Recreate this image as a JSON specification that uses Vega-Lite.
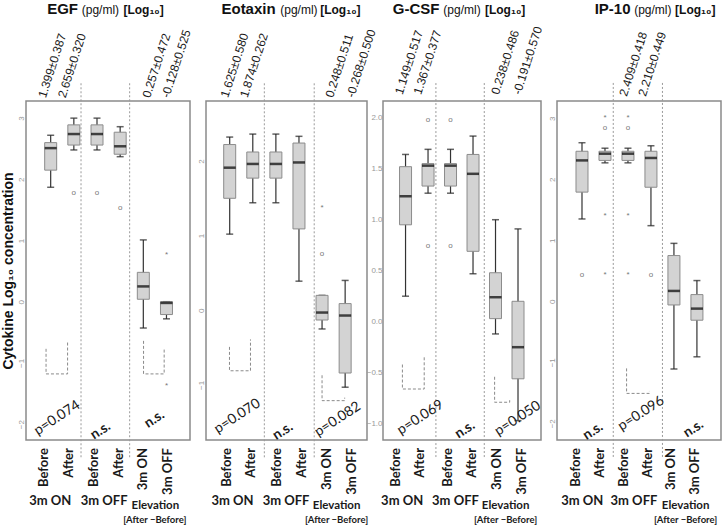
{
"$schema": "https://vega.github.io/schema/vega-lite/v6.json",
"padding": {"left": 0, "top": 0, "right": 0, "bottom": 0},
"spacing": 16,
"bounds": "flush",
"config": {
  "view": {"stroke": "#8a8a8a", "strokeWidth": 1.5},
  "font": "Liberation Sans",
  "axisX": {"domain": false, "ticks": false, "grid": false, "labels": false},
  "axisY": {"domain": false, "grid": false, "ticks": false, "labelFontSize": 8, "labelColor": "#999999", "labelPadding": 1, "titleFont": "Liberation Sans", "titleFontSize": 14, "titleFontWeight": "bold", "titleColor": "#111111", "titlePadding": 2}
},
"datasets": {
"EGF": [
{"kind":"box","x":1,"lower":1.87,"q1":2.15,"median":2.51,"q3":2.60,"upper":2.72},
{"kind":"box","x":2,"lower":2.48,"q1":2.56,"median":2.74,"q3":2.89,"upper":3.00},
{"kind":"box","x":3,"lower":2.48,"q1":2.56,"median":2.74,"q3":2.89,"upper":3.00},
{"kind":"box","x":4,"lower":2.37,"q1":2.41,"median":2.54,"q3":2.77,"upper":2.86},
{"kind":"box","x":5,"lower":-0.43,"q1":0.04,"median":0.25,"q3":0.48,"upper":1.01},
{"kind":"box","x":6,"lower":-0.28,"q1":-0.21,"median":-0.02,"q3":0.0,"upper":0.0},
{"kind":"out","x":2,"y":1.77,"sym":"o"},
{"kind":"out","x":3,"y":1.77,"sym":"o"},
{"kind":"out","x":4,"y":1.53,"sym":"o"},
{"kind":"out","x":6,"y":0.77,"sym":"*"},
{"kind":"out","x":6,"y":-1.37,"sym":"*"},
{"kind":"sep","x":2.31},
{"kind":"sep","x":4.41},
{"kind":"bracket","bid":"a","ord":1,"x":0.80,"y":-0.77},
{"kind":"bracket","bid":"a","ord":2,"x":0.80,"y":-1.18},
{"kind":"bracket","bid":"a","ord":3,"x":1.73,"y":-1.18},
{"kind":"bracket","bid":"a","ord":4,"x":1.73,"y":-0.64},
{"kind":"bracket","bid":"b","ord":1,"x":5.01,"y":-0.64},
{"kind":"bracket","bid":"b","ord":2,"x":5.01,"y":-1.18},
{"kind":"bracket","bid":"b","ord":3,"x":5.9,"y":-1.18},
{"kind":"bracket","bid":"b","ord":4,"x":5.9,"y":-0.77},
{"kind":"note","x":1.28,"y":-1.90,"label":"p=0.074"},
{"kind":"note","x":3.15,"y":-2.11,"label":"n.s."},
{"kind":"note","x":5.48,"y":-1.92,"label":"n.s."},
{"kind":"stat","x":0.785,"label":"1.399±0.387"},
{"kind":"stat","x":1.637,"label":"2.659±0.320"},
{"kind":"stat","x":5.286,"label":"0.257±0.472"},
{"kind":"stat","x":6.11,"label":"-0.128±0.525"},
{"kind":"xlab","x":0.716,"label":"Before"},
{"kind":"xlab","x":1.811,"label":"After"},
{"kind":"xlab","x":2.865,"label":"Before"},
{"kind":"xlab","x":3.96,"label":"After"},
{"kind":"xlab","x":4.97,"label":"3m ON"},
{"kind":"xlab","x":6.07,"label":"3m OFF"},
{"kind":"group","x":0.98,"label":"3m ON"},
{"kind":"group","x":3.31,"label":"3m OFF"},
{"kind":"group","x":5.52,"label":"Elevation"},
{"kind":"group","x":5.5,"label":"[After −Before]"}
],
"Eotaxin": [
{"kind":"box","x":1,"lower":1.02,"q1":1.50,"median":1.91,"q3":2.22,"upper":2.32},
{"kind":"box","x":2,"lower":1.44,"q1":1.77,"median":1.96,"q3":2.12,"upper":2.36},
{"kind":"box","x":3,"lower":1.44,"q1":1.77,"median":1.96,"q3":2.12,"upper":2.36},
{"kind":"box","x":4,"lower":0.39,"q1":1.09,"median":1.98,"q3":2.24,"upper":2.33},
{"kind":"box","x":5,"lower":-0.25,"q1":-0.13,"median":-0.03,"q3":0.20,"upper":0.20},
{"kind":"box","x":6,"lower":-1.03,"q1":-0.84,"median":-0.07,"q3":0.09,"upper":0.40},
{"kind":"out","x":5,"y":1.37,"sym":"*"},
{"kind":"out","x":5,"y":0.76,"sym":"o"},
{"kind":"sep","x":2.50},
{"kind":"sep","x":4.66},
{"kind":"bracket","bid":"a","ord":1,"x":0.99,"y":-0.49},
{"kind":"bracket","bid":"a","ord":2,"x":0.99,"y":-0.81},
{"kind":"bracket","bid":"a","ord":3,"x":1.9,"y":-0.81},
{"kind":"bracket","bid":"a","ord":4,"x":1.9,"y":-0.39},
{"kind":"bracket","bid":"b","ord":1,"x":5.0,"y":-0.87},
{"kind":"bracket","bid":"b","ord":2,"x":5.0,"y":-1.21},
{"kind":"bracket","bid":"b","ord":3,"x":5.98,"y":-1.21},
{"kind":"bracket","bid":"b","ord":4,"x":5.98,"y":-1.17},
{"kind":"note","x":1.33,"y":-1.42,"label":"p=0.070"},
{"kind":"note","x":3.30,"y":-1.62,"label":"n.s."},
{"kind":"note","x":5.68,"y":-1.46,"label":"p=0.082"},
{"kind":"stat","x":0.93,"label":"1.625±0.580"},
{"kind":"stat","x":1.77,"label":"1.874±0.262"},
{"kind":"stat","x":5.47,"label":"0.248±0.511"},
{"kind":"stat","x":6.38,"label":"-0.268±0.500"},
{"kind":"xlab","x":0.878,"label":"Before"},
{"kind":"xlab","x":1.934,"label":"After"},
{"kind":"xlab","x":3.07,"label":"Before"},
{"kind":"xlab","x":4.12,"label":"After"},
{"kind":"xlab","x":5.22,"label":"3m ON"},
{"kind":"xlab","x":6.28,"label":"3m OFF"},
{"kind":"group","x":1.12,"label":"3m ON"},
{"kind":"group","x":3.44,"label":"3m OFF"},
{"kind":"group","x":5.63,"label":"Elevation"},
{"kind":"group","x":5.63,"label":"[After −Before]"}
],
"GCSF": [
{"kind":"box","x":1,"lower":0.25,"q1":0.95,"median":1.23,"q3":1.52,"upper":1.64},
{"kind":"box","x":2,"lower":1.26,"q1":1.33,"median":1.53,"q3":1.55,"upper":1.69},
{"kind":"box","x":3,"lower":1.26,"q1":1.33,"median":1.53,"q3":1.55,"upper":1.69},
{"kind":"box","x":4,"lower":0.47,"q1":0.69,"median":1.45,"q3":1.64,"upper":1.82},
{"kind":"box","x":5,"lower":-0.12,"q1":0.03,"median":0.24,"q3":0.48,"upper":1.00},
{"kind":"box","x":6,"lower":-0.97,"q1":-0.56,"median":-0.25,"q3":0.20,"upper":0.91},
{"kind":"out","x":2,"y":1.98,"sym":"o"},
{"kind":"out","x":2,"y":0.74,"sym":"o"},
{"kind":"out","x":3,"y":1.98,"sym":"o"},
{"kind":"out","x":3,"y":0.74,"sym":"o"},
{"kind":"sep","x":2.35},
{"kind":"sep","x":4.50},
{"kind":"bracket","bid":"a","ord":1,"x":0.86,"y":-0.42},
{"kind":"bracket","bid":"a","ord":2,"x":0.86,"y":-0.66},
{"kind":"bracket","bid":"a","ord":3,"x":1.83,"y":-0.66},
{"kind":"bracket","bid":"a","ord":4,"x":1.83,"y":-0.34},
{"kind":"bracket","bid":"b","ord":1,"x":4.96,"y":-0.54},
{"kind":"bracket","bid":"b","ord":2,"x":4.96,"y":-0.79},
{"kind":"bracket","bid":"b","ord":3,"x":5.63,"y":-0.79},
{"kind":"bracket","bid":"b","ord":4,"x":5.63,"y":-0.77},
{"kind":"note","x":1.66,"y":-0.94,"label":"p=0.069"},
{"kind":"note","x":3.64,"y":-1.06,"label":"n.s."},
{"kind":"note","x":5.99,"y":-0.95,"label":"p=0.050"},
{"kind":"stat","x":0.86,"label":"1.149±0.517"},
{"kind":"stat","x":1.69,"label":"1.367±0.377"},
{"kind":"stat","x":5.14,"label":"0.238±0.486"},
{"kind":"stat","x":6.11,"label":"-0.191±0.570"},
{"kind":"xlab","x":0.583,"label":"Before"},
{"kind":"xlab","x":1.658,"label":"After"},
{"kind":"xlab","x":2.875,"label":"Before"},
{"kind":"xlab","x":3.95,"label":"After"},
{"kind":"xlab","x":5.05,"label":"3m ON"},
{"kind":"xlab","x":6.18,"label":"3m OFF"},
{"kind":"group","x":0.85,"label":"3m ON"},
{"kind":"group","x":3.22,"label":"3m OFF"},
{"kind":"group","x":5.45,"label":"Elevation"},
{"kind":"group","x":5.45,"label":"[After −Before]"}
],
"IP10": [
{"kind":"box","x":1,"lower":1.35,"q1":1.79,"median":2.31,"q3":2.46,"upper":2.60},
{"kind":"box","x":2,"lower":2.27,"q1":2.31,"median":2.42,"q3":2.46,"upper":2.51},
{"kind":"box","x":3,"lower":2.27,"q1":2.31,"median":2.42,"q3":2.46,"upper":2.51},
{"kind":"box","x":4,"lower":1.24,"q1":1.87,"median":2.35,"q3":2.46,"upper":2.55},
{"kind":"box","x":5,"lower":-1.11,"q1":-0.06,"median":0.17,"q3":0.75,"upper":0.95},
{"kind":"box","x":6,"lower":-0.91,"q1":-0.31,"median":-0.12,"q3":0.11,"upper":0.34},
{"kind":"out","x":1,"y":0.43,"sym":"o"},
{"kind":"out","x":2,"y":3.0,"sym":"*"},
{"kind":"out","x":2,"y":2.84,"sym":"o"},
{"kind":"out","x":2,"y":1.40,"sym":"*"},
{"kind":"out","x":2,"y":0.43,"sym":"*"},
{"kind":"out","x":3,"y":3.0,"sym":"*"},
{"kind":"out","x":3,"y":2.84,"sym":"o"},
{"kind":"out","x":3,"y":1.40,"sym":"*"},
{"kind":"out","x":3,"y":0.43,"sym":"*"},
{"kind":"out","x":4,"y":0.43,"sym":"o"},
{"kind":"sep","x":2.36},
{"kind":"sep","x":4.50},
{"kind":"bracket","bid":"a","ord":1,"x":2.94,"y":-1.10},
{"kind":"bracket","bid":"a","ord":2,"x":2.94,"y":-1.51},
{"kind":"bracket","bid":"a","ord":3,"x":3.93,"y":-1.51},
{"kind":"bracket","bid":"a","ord":4,"x":3.93,"y":-1.47},
{"kind":"note","x":1.48,"y":-2.13,"label":"n.s."},
{"kind":"note","x":3.57,"y":-1.84,"label":"p=0.096"},
{"kind":"note","x":5.85,"y":-2.09,"label":"n.s."},
{"kind":"stat","x":2.95,"label":"2.409±0.418"},
{"kind":"stat","x":3.77,"label":"2.210±0.449"},
{"kind":"xlab","x":0.73,"label":"Before"},
{"kind":"xlab","x":1.78,"label":"After"},
{"kind":"xlab","x":2.82,"label":"Before"},
{"kind":"xlab","x":3.88,"label":"After"},
{"kind":"xlab","x":4.86,"label":"3m ON"},
{"kind":"xlab","x":5.92,"label":"3m OFF"},
{"kind":"group","x":1.01,"label":"3m ON"},
{"kind":"group","x":3.26,"label":"3m OFF"},
{"kind":"group","x":5.51,"label":"Elevation"},
{"kind":"group","x":5.51,"label":"[After −Before]"}
]
},
"hconcat": [
{
"width": 164, "height": 339,
"data": {"name": "EGF"},
"layer": [
{"transform":[{"filter":"datum.kind=='sep'"}],"mark":{"type":"rule","color":"#9a9a9a","strokeDash":[2,2],"strokeWidth":1},"encoding":{"x":{"field":"x","type":"quantitative"},"y":{"datum":3.57},"y2":{"datum":-2.56}}},
{"transform":[{"filter":"datum.kind=='box'"}],"mark":{"type":"rule","color":"#333333","strokeWidth":1.2},"encoding":{"x":{"field":"x","type":"quantitative","title":null,"scale":{"domain":[0.15,6.8],"nice":false,"zero":false}},"y":{"field":"lower","type":"quantitative","title":"Cytokine Log₁₀ concentration","scale":{"domain":[-2.26,3.28],"nice":false,"zero":false},"axis":{"values":[-2,-1,0,1,2,3],"format":"d","labelAngle":-90}},"y2":{"field":"upper"}}},
{"transform":[{"filter":"datum.kind=='box'"}],"mark":{"type":"tick","orient":"horizontal","size":7,"thickness":1.5,"color":"#222222"},"encoding":{"x":{"field":"x","type":"quantitative"},"y":{"field":"lower","type":"quantitative"}}},
{"transform":[{"filter":"datum.kind=='box'"}],"mark":{"type":"tick","orient":"horizontal","size":7,"thickness":1.5,"color":"#222222"},"encoding":{"x":{"field":"x","type":"quantitative"},"y":{"field":"upper","type":"quantitative"}}},
{"transform":[{"filter":"datum.kind=='box'"}],"mark":{"type":"bar","width":12,"fill":"#d3d3d3","stroke":"#8c8c8c","strokeWidth":1},"encoding":{"x":{"field":"x","type":"quantitative"},"y":{"field":"q1","type":"quantitative"},"y2":{"field":"q3"}}},
{"transform":[{"filter":"datum.kind=='box'"}],"mark":{"type":"tick","orient":"horizontal","size":12,"thickness":2.5,"color":"#000000"},"encoding":{"x":{"field":"x","type":"quantitative"},"y":{"field":"median","type":"quantitative"}}},
{"transform":[{"filter":"datum.kind=='out'"}],"mark":{"type":"text","fontSize":8,"color":"#777777","baseline":"middle"},"encoding":{"x":{"field":"x","type":"quantitative"},"y":{"field":"y","type":"quantitative"},"text":{"field":"sym"}}},
{"transform":[{"filter":"datum.kind=='bracket'"}],"mark":{"type":"line","color":"#8a8a8a","strokeDash":[3,2],"strokeWidth":1},"encoding":{"x":{"field":"x","type":"quantitative"},"y":{"field":"y","type":"quantitative"},"order":{"field":"ord"},"detail":{"field":"bid"}}},
{"transform":[{"filter":"datum.kind=='note' && datum.label != 'n.s.'"}],"mark":{"type":"text","font":"Lato","fontSize":14,"angle":327,"align":"center","baseline":"middle","color":"#1a1a1a"},"encoding":{"x":{"field":"x","type":"quantitative"},"y":{"field":"y","type":"quantitative"},"text":{"field":"label"}}},
{"transform":[{"filter":"datum.kind=='note' && datum.label == 'n.s.'"}],"mark":{"type":"text","font":"Lato","fontSize":14,"fontWeight":"bold","angle":327,"align":"center","baseline":"middle","color":"#1a1a1a"},"encoding":{"x":{"field":"x","type":"quantitative"},"y":{"field":"y","type":"quantitative"},"text":{"field":"label"}}},
{"transform":[{"filter":"datum.kind=='stat'"}],"mark":{"type":"text","fontSize":12,"angle":288,"align":"left","baseline":"alphabetic","color":"#1a1a1a"},"encoding":{"x":{"field":"x","type":"quantitative"},"y":{"datum":3.32},"text":{"field":"label"}}},
{"transform":[{"filter":"datum.kind=='xlab'"}],"mark":{"type":"text","font":"Lato","fontSize":13,"fontWeight":"bold","angle":270,"align":"right","baseline":"middle","color":"#1a1a1a"},"encoding":{"x":{"field":"x","type":"quantitative"},"y":{"datum":-2.392},"text":{"field":"label"}}},
{"transform":[{"filter":"datum.kind=='group' && (datum.label=='3m ON' || datum.label=='3m OFF')"}],"mark":{"type":"text","font":"Lato","fontSize":13,"fontWeight":"bold","align":"center","baseline":"middle","color":"#1a1a1a"},"encoding":{"x":{"field":"x","type":"quantitative"},"y":{"datum":-3.258},"text":{"field":"label"}}},
{"transform":[{"filter":"datum.kind=='group' && datum.label=='Elevation'"}],"mark":{"type":"text","font":"Lato","fontSize":11.5,"fontWeight":"bold","align":"center","baseline":"middle","color":"#1a1a1a"},"encoding":{"x":{"field":"x","type":"quantitative"},"y":{"datum":-3.340},"text":{"field":"label"}}},
{"transform":[{"filter":"datum.kind=='group' && datum.label=='[After −Before]'"}],"mark":{"type":"text","font":"Lato","fontSize":9.5,"fontWeight":"bold","align":"center","baseline":"middle","color":"#1a1a1a"},"encoding":{"x":{"field":"x","type":"quantitative"},"y":{"datum":-3.569},"text":{"field":"label"}}},
{"data":{"values":[{}]},"mark":{"type":"text","text":"EGF","fontSize":15,"fontWeight":"bold","align":"right","baseline":"alphabetic","color":"#111111"},"encoding":{"x":{"datum":2.18},"y":{"datum":4.70}}},
{"data":{"values":[{}]},"mark":{"type":"text","text":"(pg/ml)","fontSize":12,"align":"left","baseline":"alphabetic","color":"#111111"},"encoding":{"x":{"datum":2.34},"y":{"datum":4.70}}},
{"data":{"values":[{}]},"mark":{"type":"text","text":"[Log₁₀]","fontSize":12,"fontWeight":"bold","align":"left","baseline":"alphabetic","color":"#111111"},"encoding":{"x":{"datum":4.14},"y":{"datum":4.70}}}
]
},
{
"width": 161, "height": 339,
"data": {"name": "Eotaxin"},
"layer": [
{"transform":[{"filter":"datum.kind=='sep'"}],"mark":{"type":"rule","color":"#9a9a9a","strokeDash":[2,2],"strokeWidth":1},"encoding":{"x":{"field":"x","type":"quantitative"},"y":{"datum":3.04},"y2":{"datum":-1.98}}},
{"transform":[{"filter":"datum.kind=='box'"}],"mark":{"type":"rule","color":"#333333","strokeWidth":1.2},"encoding":{"x":{"field":"x","type":"quantitative","title":null,"scale":{"domain":[0.19,6.73],"nice":false,"zero":false}},"y":{"field":"lower","type":"quantitative","title":null,"scale":{"domain":[-1.737,2.803],"nice":false,"zero":false},"axis":{"values":[-1,0,1,2],"format":"d","labelAngle":-90}},"y2":{"field":"upper"}}},
{"transform":[{"filter":"datum.kind=='box'"}],"mark":{"type":"tick","orient":"horizontal","size":7,"thickness":1.5,"color":"#222222"},"encoding":{"x":{"field":"x","type":"quantitative"},"y":{"field":"lower","type":"quantitative"}}},
{"transform":[{"filter":"datum.kind=='box'"}],"mark":{"type":"tick","orient":"horizontal","size":7,"thickness":1.5,"color":"#222222"},"encoding":{"x":{"field":"x","type":"quantitative"},"y":{"field":"upper","type":"quantitative"}}},
{"transform":[{"filter":"datum.kind=='box'"}],"mark":{"type":"bar","width":12,"fill":"#d3d3d3","stroke":"#8c8c8c","strokeWidth":1},"encoding":{"x":{"field":"x","type":"quantitative"},"y":{"field":"q1","type":"quantitative"},"y2":{"field":"q3"}}},
{"transform":[{"filter":"datum.kind=='box'"}],"mark":{"type":"tick","orient":"horizontal","size":12,"thickness":2.5,"color":"#000000"},"encoding":{"x":{"field":"x","type":"quantitative"},"y":{"field":"median","type":"quantitative"}}},
{"transform":[{"filter":"datum.kind=='out'"}],"mark":{"type":"text","fontSize":8,"color":"#777777","baseline":"middle"},"encoding":{"x":{"field":"x","type":"quantitative"},"y":{"field":"y","type":"quantitative"},"text":{"field":"sym"}}},
{"transform":[{"filter":"datum.kind=='bracket'"}],"mark":{"type":"line","color":"#8a8a8a","strokeDash":[3,2],"strokeWidth":1},"encoding":{"x":{"field":"x","type":"quantitative"},"y":{"field":"y","type":"quantitative"},"order":{"field":"ord"},"detail":{"field":"bid"}}},
{"transform":[{"filter":"datum.kind=='note' && datum.label != 'n.s.'"}],"mark":{"type":"text","font":"Lato","fontSize":14,"angle":327,"align":"center","baseline":"middle","color":"#1a1a1a"},"encoding":{"x":{"field":"x","type":"quantitative"},"y":{"field":"y","type":"quantitative"},"text":{"field":"label"}}},
{"transform":[{"filter":"datum.kind=='note' && datum.label == 'n.s.'"}],"mark":{"type":"text","font":"Lato","fontSize":14,"fontWeight":"bold","angle":327,"align":"center","baseline":"middle","color":"#1a1a1a"},"encoding":{"x":{"field":"x","type":"quantitative"},"y":{"field":"y","type":"quantitative"},"text":{"field":"label"}}},
{"transform":[{"filter":"datum.kind=='stat'"}],"mark":{"type":"text","fontSize":12,"angle":288,"align":"left","baseline":"alphabetic","color":"#1a1a1a"},"encoding":{"x":{"field":"x","type":"quantitative"},"y":{"datum":2.84},"text":{"field":"label"}}},
{"transform":[{"filter":"datum.kind=='xlab'"}],"mark":{"type":"text","font":"Lato","fontSize":13,"fontWeight":"bold","angle":270,"align":"right","baseline":"middle","color":"#1a1a1a"},"encoding":{"x":{"field":"x","type":"quantitative"},"y":{"datum":-1.844},"text":{"field":"label"}}},
{"transform":[{"filter":"datum.kind=='group' && (datum.label=='3m ON' || datum.label=='3m OFF')"}],"mark":{"type":"text","font":"Lato","fontSize":13,"fontWeight":"bold","align":"center","baseline":"middle","color":"#1a1a1a"},"encoding":{"x":{"field":"x","type":"quantitative"},"y":{"datum":-2.554},"text":{"field":"label"}}},
{"transform":[{"filter":"datum.kind=='group' && datum.label=='Elevation'"}],"mark":{"type":"text","font":"Lato","fontSize":11.5,"fontWeight":"bold","align":"center","baseline":"middle","color":"#1a1a1a"},"encoding":{"x":{"field":"x","type":"quantitative"},"y":{"datum":-2.621},"text":{"field":"label"}}},
{"transform":[{"filter":"datum.kind=='group' && datum.label=='[After −Before]'"}],"mark":{"type":"text","font":"Lato","fontSize":9.5,"fontWeight":"bold","align":"center","baseline":"middle","color":"#1a1a1a"},"encoding":{"x":{"field":"x","type":"quantitative"},"y":{"datum":-2.808},"text":{"field":"label"}}},
{"data":{"values":[{}]},"mark":{"type":"text","text":"Eotaxin","fontSize":15,"fontWeight":"bold","align":"right","baseline":"alphabetic","color":"#111111"},"encoding":{"x":{"datum":2.99},"y":{"datum":3.97}}},
{"data":{"values":[{}]},"mark":{"type":"text","text":"(pg/ml)","fontSize":12,"align":"left","baseline":"alphabetic","color":"#111111"},"encoding":{"x":{"datum":3.19},"y":{"datum":3.97}}},
{"data":{"values":[{}]},"mark":{"type":"text","text":"[Log₁₀]","fontSize":12,"fontWeight":"bold","align":"left","baseline":"alphabetic","color":"#111111"},"encoding":{"x":{"datum":4.92},"y":{"datum":3.97}}}
]
},
{
"width": 158, "height": 339,
"data": {"name": "GCSF"},
"layer": [
{"transform":[{"filter":"datum.kind=='sep'"}],"mark":{"type":"rule","color":"#9a9a9a","strokeDash":[2,2],"strokeWidth":1},"encoding":{"x":{"field":"x","type":"quantitative"},"y":{"datum":2.34},"y2":{"datum":-1.34}}},
{"transform":[{"filter":"datum.kind=='box'"}],"mark":{"type":"rule","color":"#333333","strokeWidth":1.2},"encoding":{"x":{"field":"x","type":"quantitative","title":null,"scale":{"domain":[0.22,6.8],"nice":false,"zero":false}},"y":{"field":"lower","type":"quantitative","title":null,"scale":{"domain":[-1.16,2.164],"nice":false,"zero":false},"axis":{"values":[-1,-0.5,0,0.5,1,1.5,2],"format":".1f"}},"y2":{"field":"upper"}}},
{"transform":[{"filter":"datum.kind=='box'"}],"mark":{"type":"tick","orient":"horizontal","size":7,"thickness":1.5,"color":"#222222"},"encoding":{"x":{"field":"x","type":"quantitative"},"y":{"field":"lower","type":"quantitative"}}},
{"transform":[{"filter":"datum.kind=='box'"}],"mark":{"type":"tick","orient":"horizontal","size":7,"thickness":1.5,"color":"#222222"},"encoding":{"x":{"field":"x","type":"quantitative"},"y":{"field":"upper","type":"quantitative"}}},
{"transform":[{"filter":"datum.kind=='box'"}],"mark":{"type":"bar","width":12,"fill":"#d3d3d3","stroke":"#8c8c8c","strokeWidth":1},"encoding":{"x":{"field":"x","type":"quantitative"},"y":{"field":"q1","type":"quantitative"},"y2":{"field":"q3"}}},
{"transform":[{"filter":"datum.kind=='box'"}],"mark":{"type":"tick","orient":"horizontal","size":12,"thickness":2.5,"color":"#000000"},"encoding":{"x":{"field":"x","type":"quantitative"},"y":{"field":"median","type":"quantitative"}}},
{"transform":[{"filter":"datum.kind=='out'"}],"mark":{"type":"text","fontSize":8,"color":"#777777","baseline":"middle"},"encoding":{"x":{"field":"x","type":"quantitative"},"y":{"field":"y","type":"quantitative"},"text":{"field":"sym"}}},
{"transform":[{"filter":"datum.kind=='bracket'"}],"mark":{"type":"line","color":"#8a8a8a","strokeDash":[3,2],"strokeWidth":1},"encoding":{"x":{"field":"x","type":"quantitative"},"y":{"field":"y","type":"quantitative"},"order":{"field":"ord"},"detail":{"field":"bid"}}},
{"transform":[{"filter":"datum.kind=='note' && datum.label != 'n.s.'"}],"mark":{"type":"text","font":"Lato","fontSize":14,"angle":327,"align":"center","baseline":"middle","color":"#1a1a1a"},"encoding":{"x":{"field":"x","type":"quantitative"},"y":{"field":"y","type":"quantitative"},"text":{"field":"label"}}},
{"transform":[{"filter":"datum.kind=='note' && datum.label == 'n.s.'"}],"mark":{"type":"text","font":"Lato","fontSize":14,"fontWeight":"bold","angle":327,"align":"center","baseline":"middle","color":"#1a1a1a"},"encoding":{"x":{"field":"x","type":"quantitative"},"y":{"field":"y","type":"quantitative"},"text":{"field":"label"}}},
{"transform":[{"filter":"datum.kind=='stat'"}],"mark":{"type":"text","fontSize":12,"angle":288,"align":"left","baseline":"alphabetic","color":"#1a1a1a"},"encoding":{"x":{"field":"x","type":"quantitative"},"y":{"datum":2.22},"text":{"field":"label"}}},
{"transform":[{"filter":"datum.kind=='xlab'"}],"mark":{"type":"text","font":"Lato","fontSize":13,"fontWeight":"bold","angle":270,"align":"right","baseline":"middle","color":"#1a1a1a"},"encoding":{"x":{"field":"x","type":"quantitative"},"y":{"datum":-1.238},"text":{"field":"label"}}},
{"transform":[{"filter":"datum.kind=='group' && (datum.label=='3m ON' || datum.label=='3m OFF')"}],"mark":{"type":"text","font":"Lato","fontSize":13,"fontWeight":"bold","align":"center","baseline":"middle","color":"#1a1a1a"},"encoding":{"x":{"field":"x","type":"quantitative"},"y":{"datum":-1.758},"text":{"field":"label"}}},
{"transform":[{"filter":"datum.kind=='group' && datum.label=='Elevation'"}],"mark":{"type":"text","font":"Lato","fontSize":11.5,"fontWeight":"bold","align":"center","baseline":"middle","color":"#1a1a1a"},"encoding":{"x":{"field":"x","type":"quantitative"},"y":{"datum":-1.807},"text":{"field":"label"}}},
{"transform":[{"filter":"datum.kind=='group' && datum.label=='[After −Before]'"}],"mark":{"type":"text","font":"Lato","fontSize":9.5,"fontWeight":"bold","align":"center","baseline":"middle","color":"#1a1a1a"},"encoding":{"x":{"field":"x","type":"quantitative"},"y":{"datum":-1.944},"text":{"field":"label"}}},
{"data":{"values":[{}]},"mark":{"type":"text","text":"G-CSF","fontSize":15,"fontWeight":"bold","align":"right","baseline":"alphabetic","color":"#111111"},"encoding":{"x":{"datum":2.51},"y":{"datum":3.02}}},
{"data":{"values":[{}]},"mark":{"type":"text","text":"(pg/ml)","fontSize":12,"align":"left","baseline":"alphabetic","color":"#111111"},"encoding":{"x":{"datum":2.68},"y":{"datum":3.02}}},
{"data":{"values":[{}]},"mark":{"type":"text","text":"[Log₁₀]","fontSize":12,"fontWeight":"bold","align":"left","baseline":"alphabetic","color":"#111111"},"encoding":{"x":{"datum":4.53},"y":{"datum":3.02}}}
]
},
{
"width": 164, "height": 339,
"data": {"name": "IP10"},
"layer": [
{"transform":[{"filter":"datum.kind=='sep'"}],"mark":{"type":"rule","color":"#9a9a9a","strokeDash":[2,2],"strokeWidth":1},"encoding":{"x":{"field":"x","type":"quantitative"},"y":{"datum":3.58},"y2":{"datum":-2.57}}},
{"transform":[{"filter":"datum.kind=='box'"}],"mark":{"type":"rule","color":"#333333","strokeWidth":1.2},"encoding":{"x":{"field":"x","type":"quantitative","title":null,"scale":{"domain":[0.13,6.83],"nice":false,"zero":false}},"y":{"field":"lower","type":"quantitative","title":null,"scale":{"domain":[-2.274,3.284],"nice":false,"zero":false},"axis":{"values":[-2,-1,0,1,2,3],"format":"d","labelAngle":-90}},"y2":{"field":"upper"}}},
{"transform":[{"filter":"datum.kind=='box'"}],"mark":{"type":"tick","orient":"horizontal","size":7,"thickness":1.5,"color":"#222222"},"encoding":{"x":{"field":"x","type":"quantitative"},"y":{"field":"lower","type":"quantitative"}}},
{"transform":[{"filter":"datum.kind=='box'"}],"mark":{"type":"tick","orient":"horizontal","size":7,"thickness":1.5,"color":"#222222"},"encoding":{"x":{"field":"x","type":"quantitative"},"y":{"field":"upper","type":"quantitative"}}},
{"transform":[{"filter":"datum.kind=='box'"}],"mark":{"type":"bar","width":12,"fill":"#d3d3d3","stroke":"#8c8c8c","strokeWidth":1},"encoding":{"x":{"field":"x","type":"quantitative"},"y":{"field":"q1","type":"quantitative"},"y2":{"field":"q3"}}},
{"transform":[{"filter":"datum.kind=='box'"}],"mark":{"type":"tick","orient":"horizontal","size":12,"thickness":2.5,"color":"#000000"},"encoding":{"x":{"field":"x","type":"quantitative"},"y":{"field":"median","type":"quantitative"}}},
{"transform":[{"filter":"datum.kind=='out'"}],"mark":{"type":"text","fontSize":8,"color":"#777777","baseline":"middle"},"encoding":{"x":{"field":"x","type":"quantitative"},"y":{"field":"y","type":"quantitative"},"text":{"field":"sym"}}},
{"transform":[{"filter":"datum.kind=='bracket'"}],"mark":{"type":"line","color":"#8a8a8a","strokeDash":[3,2],"strokeWidth":1},"encoding":{"x":{"field":"x","type":"quantitative"},"y":{"field":"y","type":"quantitative"},"order":{"field":"ord"},"detail":{"field":"bid"}}},
{"transform":[{"filter":"datum.kind=='note' && datum.label != 'n.s.'"}],"mark":{"type":"text","font":"Lato","fontSize":14,"angle":327,"align":"center","baseline":"middle","color":"#1a1a1a"},"encoding":{"x":{"field":"x","type":"quantitative"},"y":{"field":"y","type":"quantitative"},"text":{"field":"label"}}},
{"transform":[{"filter":"datum.kind=='note' && datum.label == 'n.s.'"}],"mark":{"type":"text","font":"Lato","fontSize":14,"fontWeight":"bold","angle":327,"align":"center","baseline":"middle","color":"#1a1a1a"},"encoding":{"x":{"field":"x","type":"quantitative"},"y":{"field":"y","type":"quantitative"},"text":{"field":"label"}}},
{"transform":[{"filter":"datum.kind=='stat'"}],"mark":{"type":"text","fontSize":12,"angle":288,"align":"left","baseline":"alphabetic","color":"#1a1a1a"},"encoding":{"x":{"field":"x","type":"quantitative"},"y":{"datum":3.35},"text":{"field":"label"}}},
{"transform":[{"filter":"datum.kind=='xlab'"}],"mark":{"type":"text","font":"Lato","fontSize":13,"fontWeight":"bold","angle":270,"align":"right","baseline":"middle","color":"#1a1a1a"},"encoding":{"x":{"field":"x","type":"quantitative"},"y":{"datum":-2.405},"text":{"field":"label"}}},
{"transform":[{"filter":"datum.kind=='group' && (datum.label=='3m ON' || datum.label=='3m OFF')"}],"mark":{"type":"text","font":"Lato","fontSize":13,"fontWeight":"bold","align":"center","baseline":"middle","color":"#1a1a1a"},"encoding":{"x":{"field":"x","type":"quantitative"},"y":{"datum":-3.274},"text":{"field":"label"}}},
{"transform":[{"filter":"datum.kind=='group' && datum.label=='Elevation'"}],"mark":{"type":"text","font":"Lato","fontSize":11.5,"fontWeight":"bold","align":"center","baseline":"middle","color":"#1a1a1a"},"encoding":{"x":{"field":"x","type":"quantitative"},"y":{"datum":-3.356},"text":{"field":"label"}}},
{"transform":[{"filter":"datum.kind=='group' && datum.label=='[After −Before]'"}],"mark":{"type":"text","font":"Lato","fontSize":9.5,"fontWeight":"bold","align":"center","baseline":"middle","color":"#1a1a1a"},"encoding":{"x":{"field":"x","type":"quantitative"},"y":{"datum":-3.585},"text":{"field":"label"}}},
{"data":{"values":[{}]},"mark":{"type":"text","text":"IP-10","fontSize":15,"fontWeight":"bold","align":"right","baseline":"alphabetic","color":"#111111"},"encoding":{"x":{"datum":3.11},"y":{"datum":4.71}}},
{"data":{"values":[{}]},"mark":{"type":"text","text":"(pg/ml)","fontSize":12,"align":"left","baseline":"alphabetic","color":"#111111"},"encoding":{"x":{"datum":3.27},"y":{"datum":4.71}}},
{"data":{"values":[{}]},"mark":{"type":"text","text":"[Log₁₀]","fontSize":12,"fontWeight":"bold","align":"left","baseline":"alphabetic","color":"#111111"},"encoding":{"x":{"datum":5.05},"y":{"datum":4.71}}}
]
}
]
}
